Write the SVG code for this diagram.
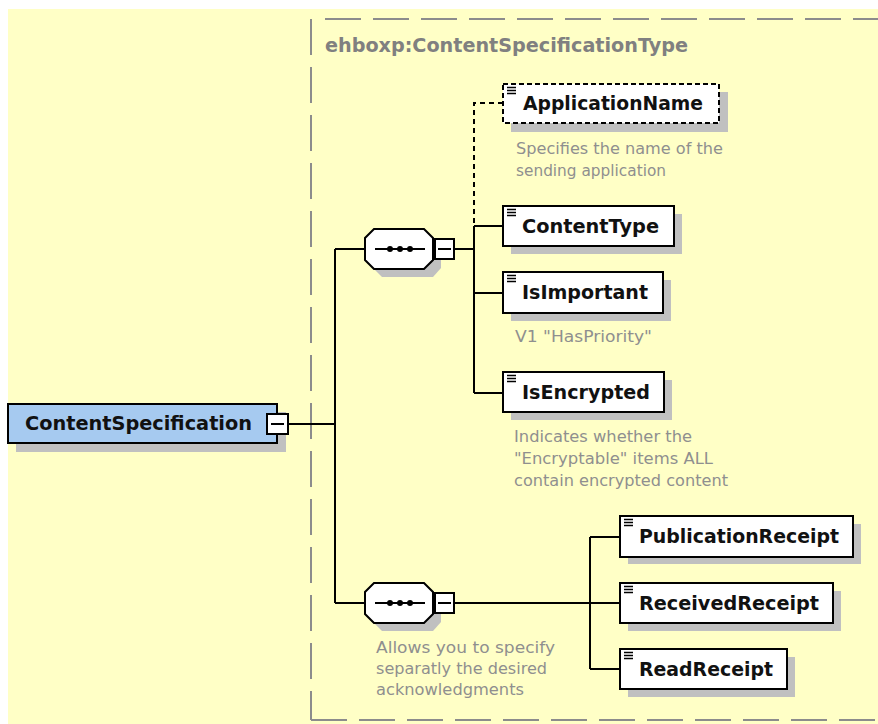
<svg xmlns="http://www.w3.org/2000/svg" width="878" height="724" viewBox="0 0 878 724">
<style>
.bg{fill:#FFFFC6}
.frame{fill:none;stroke:#8c8c8c;stroke-width:2;stroke-dasharray:36 12}
.title{font-family:"DejaVu Sans",Verdana,sans-serif;font-weight:bold;font-size:19px;fill:#808080}
.shadow{fill:#c0c0c0}
.box{fill:#ffffff;stroke:#000;stroke-width:2}
.opt{fill:#ffffff;stroke:#000;stroke-width:2;stroke-dasharray:5 3}
.root{fill:#A6CAF0;stroke:#000;stroke-width:2}
.lbl{font-family:"DejaVu Sans",Verdana,sans-serif;font-weight:bold;font-size:19px;fill:#111}
.desc{font-family:"DejaVu Sans",Verdana,sans-serif;font-size:15px;fill:#8f8f8f}
.ln{fill:none;stroke:#000;stroke-width:2}
.dln{fill:none;stroke:#000;stroke-width:2;stroke-dasharray:5 4}
.icon{fill:none;stroke:#000;stroke-width:1.3}
.dot{fill:#000}
</style>
<rect class="bg" x="8" y="9" width="870" height="715"/>
<g id="type-frame">
<line class="frame" x1="325" y1="19" x2="878" y2="19"/>
<line class="frame" x1="311" y1="19" x2="311" y2="720"/>
<line class="frame" x1="311" y1="720" x2="878" y2="720"/>
<text class="title" x="325" y="52" textLength="363" lengthAdjust="spacingAndGlyphs">ehboxp:ContentSpecificationType</text>
</g>
<g id="connectors">
<line class="ln" x1="288" y1="424" x2="335" y2="424"/>
<line class="ln" x1="335" y1="249" x2="335" y2="603"/>
<line class="ln" x1="335" y1="249" x2="365" y2="249"/>
<line class="ln" x1="335" y1="603" x2="365" y2="603"/>
<line class="ln" x1="454" y1="249" x2="474" y2="249"/>
<path class="dln" d="M503,103 H474 V226"/>
<line class="ln" x1="474" y1="226" x2="474" y2="393"/>
<line class="ln" x1="474" y1="226" x2="503" y2="226"/>
<line class="ln" x1="474" y1="293" x2="503" y2="293"/>
<line class="ln" x1="474" y1="393" x2="503" y2="393"/>
<line class="ln" x1="454" y1="603" x2="620" y2="603"/>
<line class="ln" x1="590" y1="537" x2="590" y2="669"/>
<line class="ln" x1="590" y1="537" x2="620" y2="537"/>
<line class="ln" x1="590" y1="669" x2="620" y2="669"/>
</g>
<g id="ContentSpecification">
<rect class="shadow" x="16" y="412" width="270" height="40"/>
<rect class="root" x="8" y="404" width="269" height="39"/>
<text class="lbl" x="25" y="430" textLength="227" lengthAdjust="spacingAndGlyphs">ContentSpecification</text>
<rect class="box" x="267" y="414" width="21" height="20"/>
<line class="ln" x1="271" y1="424" x2="284" y2="424"/>
</g>
<g id="sequence1">
<polygon class="shadow" points="382,237 433,237 441,246 441,268 433,277 382,277 373,268 373,246"/>
<polygon class="box" points="374,229 424,229 433,238 433,260 424,269 374,269 365,260 365,238"/>
<line class="ln" x1="375" y1="249" x2="425" y2="249"/>
<circle class="dot" cx="390" cy="249" r="3"/>
<circle class="dot" cx="400" cy="249" r="3"/>
<circle class="dot" cx="410" cy="249" r="3"/>
<rect class="box" x="435" y="239" width="19" height="20"/>
<line class="ln" x1="438" y1="249" x2="451" y2="249"/>
</g>
<g id="ApplicationName">
<rect class="shadow" x="511" y="92" width="217" height="40"/>
<rect class="opt" x="503" y="84" width="216" height="39"/>
<path class="icon" d="M507,87.5h9M507,90.5h9M507,93.5h9"/>
<text class="lbl" x="523" y="110" textLength="180" lengthAdjust="spacingAndGlyphs">ApplicationName</text>
<text class="desc" x="516" y="154" textLength="207" lengthAdjust="spacingAndGlyphs">Specifies the name of the</text>
<text class="desc" x="516" y="176" textLength="150" lengthAdjust="spacingAndGlyphs">sending application</text>
</g>
<g id="ContentType">
<rect class="shadow" x="511" y="214" width="171" height="40"/>
<rect class="box" x="503" y="206" width="171" height="40"/>
<path class="icon" d="M507,209.5h9M507,212.5h9M507,215.5h9"/>
<text class="lbl" x="522" y="233" textLength="137" lengthAdjust="spacingAndGlyphs">ContentType</text>
</g>
<g id="IsImportant">
<rect class="shadow" x="511" y="280" width="160" height="41"/>
<rect class="box" x="503" y="272" width="160" height="41"/>
<path class="icon" d="M507,275.5h9M507,278.5h9M507,281.5h9"/>
<text class="lbl" x="522" y="299" textLength="126" lengthAdjust="spacingAndGlyphs">IsImportant</text>
<text class="desc" x="515" y="342" textLength="137" lengthAdjust="spacingAndGlyphs">V1 "HasPriority"</text>
</g>
<g id="IsEncrypted">
<rect class="shadow" x="511" y="380" width="161" height="40"/>
<rect class="box" x="503" y="372" width="161" height="40"/>
<path class="icon" d="M507,375.5h9M507,378.5h9M507,381.5h9"/>
<text class="lbl" x="522" y="399" textLength="128" lengthAdjust="spacingAndGlyphs">IsEncrypted</text>
<text class="desc" x="514" y="442" textLength="178" lengthAdjust="spacingAndGlyphs">Indicates whether the</text>
<text class="desc" x="514" y="464" textLength="199" lengthAdjust="spacingAndGlyphs">"Encryptable" items ALL</text>
<text class="desc" x="514" y="486" textLength="214" lengthAdjust="spacingAndGlyphs">contain encrypted content</text>
</g>
<g id="sequence2">
<polygon class="shadow" points="382,591 433,591 441,600 441,622 433,631 382,631 373,622 373,600"/>
<polygon class="box" points="374,583 424,583 433,592 433,614 424,623 374,623 365,614 365,592"/>
<line class="ln" x1="375" y1="603" x2="425" y2="603"/>
<circle class="dot" cx="390" cy="603" r="3"/>
<circle class="dot" cx="400" cy="603" r="3"/>
<circle class="dot" cx="410" cy="603" r="3"/>
<rect class="box" x="435" y="593" width="19" height="20"/>
<line class="ln" x1="438" y1="603" x2="451" y2="603"/>
<text class="desc" x="376" y="653" textLength="179" lengthAdjust="spacingAndGlyphs">Allows you to specify</text>
<text class="desc" x="376" y="674" textLength="171" lengthAdjust="spacingAndGlyphs">separatly the desired</text>
<text class="desc" x="376" y="695" textLength="148" lengthAdjust="spacingAndGlyphs">acknowledgments</text>
</g>
<g id="PublicationReceipt">
<rect class="shadow" x="628" y="524" width="233" height="40"/>
<rect class="box" x="620" y="516" width="233" height="41"/>
<path class="icon" d="M624,519.5h9M624,522.5h9M624,525.5h9"/>
<text class="lbl" x="639" y="543" textLength="200" lengthAdjust="spacingAndGlyphs">PublicationReceipt</text>
</g>
<g id="ReceivedReceipt">
<rect class="shadow" x="628" y="591" width="213" height="40"/>
<rect class="box" x="620" y="583" width="213" height="40"/>
<path class="icon" d="M624,586.5h9M624,589.5h9M624,592.5h9"/>
<text class="lbl" x="639" y="610" textLength="180" lengthAdjust="spacingAndGlyphs">ReceivedReceipt</text>
</g>
<g id="ReadReceipt">
<rect class="shadow" x="628" y="657" width="167" height="40"/>
<rect class="box" x="620" y="649" width="167" height="40"/>
<path class="icon" d="M624,652.5h9M624,655.5h9M624,658.5h9"/>
<text class="lbl" x="639" y="676" textLength="134" lengthAdjust="spacingAndGlyphs">ReadReceipt</text>
</g>
</svg>
